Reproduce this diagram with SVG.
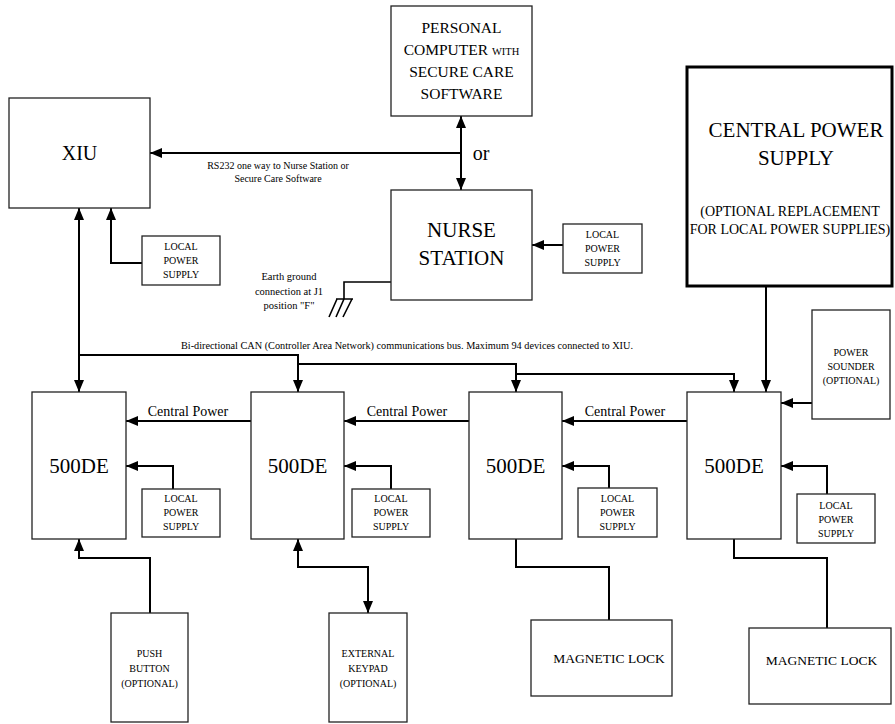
<svg xmlns="http://www.w3.org/2000/svg" width="895" height="724" viewBox="0 0 895 724">
<style>
.box{fill:#fff;stroke:#222;stroke-width:1.3}
.thick{fill:#fff;stroke:#000;stroke-width:3}
.c{fill:none;stroke:#000;stroke-width:2}
.ca{fill:none;stroke:#000;stroke-width:2;marker-end:url(#ah)}
.cb{fill:none;stroke:#000;stroke-width:2;marker-end:url(#ah);marker-start:url(#ah)}
text{font-family:"Liberation Serif","Times New Roman",serif;fill:#000;text-anchor:middle}
.big{font-size:21px}
.med{font-size:15.5px}
.mid{font-size:14px}
.sm{font-size:10px}
</style>
<defs>
<marker id="ah" markerUnits="userSpaceOnUse" markerWidth="12" markerHeight="10" refX="12" refY="5" orient="auto-start-reverse">
<path d="M0,0 L12,5 L0,10 z" fill="#000"/>
</marker>
</defs>

<g id="connectors">
<path class="ca" d="M461,153 H150"/>
<path class="cb" d="M461,116 V190"/>
<path class="cb" d="M79,208 V392"/>
<path class="ca" d="M79,355 H298 V392"/>
<path class="ca" d="M298,364 H516 V392"/>
<path class="ca" d="M516,374 H734 V392"/>
<path class="ca" d="M142,263 H111 V208"/>
<path class="ca" d="M563,245 H532"/>
<path class="ca" d="M766,287 V392"/>
<path class="ca" d="M812,403 H781"/>
<path class="ca" d="M251,421 H126"/>
<path class="ca" d="M469,421 H344"/>
<path class="ca" d="M687,421 H562"/>
<path class="ca" d="M173,489 V466 H126"/>
<path class="ca" d="M391,489 V466 H344"/>
<path class="ca" d="M609,488 V466 H562"/>
<path class="ca" d="M827,494 V466 H781"/>
<path class="ca" d="M150,613 V558 H79 V539"/>
<path class="cb" d="M298,539 V567 H368 V613"/>
<path class="c" d="M516,539 V567 H609 V620"/>
<path class="c" d="M734,539 V558 H827 V628"/>
<path class="c" style="stroke-width:1.6" d="M391,282 H344 V299 M336,299 H353 M337,299 L329,317 M344,299 L336,317 M352,299 L343,317"/>
</g>

<g id="labels">
<text class="sm" x="278" y="169">RS232 one way to Nurse Station or</text>
<text class="sm" x="278" y="182">Secure Care Software</text>
<text x="481" y="160" style="font-size:20px">or</text>
<text x="289" y="280" style="font-size:10.5px">Earth ground</text>
<text x="289" y="295" style="font-size:10.5px">connection at J1</text>
<text x="289" y="309" style="font-size:10.5px">position "F"</text>
<text class="sm" x="407" y="349" textLength="452" lengthAdjust="spacingAndGlyphs">Bi-directional CAN (Controller Area Network) communications bus.  Maximum 94 devices connected to XIU.</text>
<text class="mid" x="188" y="416">Central Power</text>
<text class="mid" x="407" y="416">Central Power</text>
<text class="mid" x="625" y="416">Central Power</text>
</g>

<g id="xiu">
<rect class="box" x="9" y="98" width="141" height="110"/>
<text x="79.5" y="160" style="font-size:20px">XIU</text>
</g>

<g id="xiu-lps">
<rect class="box" x="142" y="236" width="78" height="49"/>
<text class="sm" x="181" y="249.5">LOCAL</text>
<text class="sm" x="181" y="263.5">POWER</text>
<text class="sm" x="181" y="278">SUPPLY</text>
</g>

<g id="pc">
<rect class="box" x="391" y="6" width="141" height="110"/>
<text class="med" x="461.5" y="33">PERSONAL</text>
<text class="med" x="461.5" y="55">COMPUTER <tspan style="font-size:10.5px">WITH</tspan></text>
<text class="med" x="461.5" y="77">SECURE CARE</text>
<text class="med" x="461.5" y="99">SOFTWARE</text>
</g>

<g id="nurse">
<rect class="box" x="391" y="190" width="141" height="110"/>
<text class="big" x="461.5" y="237">NURSE</text>
<text class="big" x="461.5" y="265">STATION</text>
</g>

<g id="nurse-lps">
<rect class="box" x="563" y="224" width="79" height="49"/>
<text class="sm" x="602.5" y="237.5">LOCAL</text>
<text class="sm" x="602.5" y="251.5">POWER</text>
<text class="sm" x="602.5" y="266">SUPPLY</text>
</g>

<g id="cps">
<rect class="thick" x="687" y="67" width="205" height="219"/>
<text class="big" x="796" y="137">CENTRAL POWER</text>
<text class="big" x="796" y="165">SUPPLY</text>
<text class="mid" x="790" y="216">(OPTIONAL REPLACEMENT</text>
<text class="mid" x="790" y="234">FOR LOCAL POWER SUPPLIES)</text>
</g>

<g id="sounder">
<rect class="box" x="812" y="310" width="78" height="109"/>
<text class="sm" x="851" y="355.5">POWER</text>
<text class="sm" x="851" y="369.5">SOUNDER</text>
<text class="sm" x="851" y="383.5">(OPTIONAL)</text>
</g>

<g id="de1">
<rect class="box" x="32" y="392" width="94" height="147"/>
<text class="big" x="79" y="473">500DE</text>
</g>
<g id="de2">
<rect class="box" x="251" y="392" width="93" height="147"/>
<text class="big" x="297.5" y="473">500DE</text>
</g>
<g id="de3">
<rect class="box" x="469" y="392" width="93" height="147"/>
<text class="big" x="515.5" y="473">500DE</text>
</g>
<g id="de4">
<rect class="box" x="687" y="392" width="94" height="147"/>
<text class="big" x="734" y="473">500DE</text>
</g>

<g id="lps1">
<rect class="box" x="142" y="489" width="78" height="48"/>
<text class="sm" x="181" y="501.5">LOCAL</text>
<text class="sm" x="181" y="515.5">POWER</text>
<text class="sm" x="181" y="530">SUPPLY</text>
</g>
<g id="lps2">
<rect class="box" x="352" y="489" width="78" height="48"/>
<text class="sm" x="391" y="501.5">LOCAL</text>
<text class="sm" x="391" y="515.5">POWER</text>
<text class="sm" x="391" y="530">SUPPLY</text>
</g>
<g id="lps3">
<rect class="box" x="578" y="488" width="79" height="49"/>
<text class="sm" x="617.5" y="501.5">LOCAL</text>
<text class="sm" x="617.5" y="515.5">POWER</text>
<text class="sm" x="617.5" y="530">SUPPLY</text>
</g>
<g id="lps4">
<rect class="box" x="797" y="494" width="78" height="49"/>
<text class="sm" x="836" y="508.5">LOCAL</text>
<text class="sm" x="836" y="522.5">POWER</text>
<text class="sm" x="836" y="536.5">SUPPLY</text>
</g>

<g id="pushbutton">
<rect class="box" x="111" y="613" width="77" height="109"/>
<text class="sm" x="149.5" y="656.5">PUSH</text>
<text class="sm" x="149.5" y="671.5">BUTTON</text>
<text class="sm" x="149.5" y="686.5">(OPTIONAL)</text>
</g>
<g id="keypad">
<rect class="box" x="329" y="613" width="78" height="109"/>
<text class="sm" x="368" y="656.5">EXTERNAL</text>
<text class="sm" x="368" y="671.5">KEYPAD</text>
<text class="sm" x="368" y="686.5">(OPTIONAL)</text>
</g>
<g id="maglock1">
<rect class="box" x="531" y="620" width="141" height="76"/>
<text x="609" y="663" style="font-size:13.5px">MAGNETIC LOCK</text>
</g>
<g id="maglock2">
<rect class="box" x="749" y="628" width="142" height="76"/>
<text x="821.5" y="665" style="font-size:13.5px">MAGNETIC LOCK</text>
</g>
</svg>
